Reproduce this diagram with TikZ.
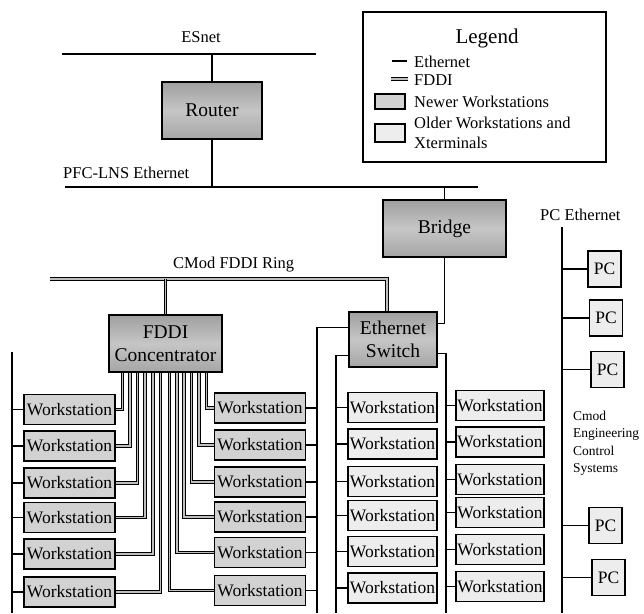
\documentclass[tikz,border=0pt]{standalone}
\usepackage{fontspec}
\setmainfont{Liberation Serif}
\usetikzlibrary{calc}
\begin{document}
\begin{tikzpicture}[x=1pt,y=-1pt,
  dev/.style={draw, line width=1.3pt, top color=gray!75, bottom color=gray!70, middle color=gray!45, font=\fontsize{19.5}{23}\selectfont, inner sep=0pt, align=center},
  newws/.style={draw, line width=1.2pt, fill=gray!35, minimum width=91pt, minimum height=30pt, inner sep=0pt, font=\fontsize{17.5}{19}\selectfont},
  oldws/.style={newws, fill=gray!14},
  pcbox/.style={oldws, minimum width=33pt, minimum height=36pt},
  lbl/.style={font=\fontsize{16.5}{18}\selectfont, inner sep=0pt, anchor=base west},
  small/.style={font=\fontsize{13.5}{16}\selectfont, inner sep=0pt, anchor=base west},
  eth/.style={line width=1.1pt},
  fddi/.style={line width=1pt, double=gray!50, double distance=1.6pt},
]
\useasboundingbox (0,0) rectangle (644,613);

% ---- top: ESnet, router, PFC-LNS
\node[lbl, anchor=base] (esnet) at (201,42) {ESnet};
\coordinate (esL) at (62,54);
\coordinate (esR) at (316,54);
\draw[eth] (esL) -- (esR);
\node[dev, minimum width=100pt, minimum height=57pt] (router) at (212,110.5) {Router};
\draw[eth] (router.north) -- (router.north |- esL);

\node[lbl] (pfclbl) at (63,178) {PFC-LNS Ethernet};
\coordinate (pfL) at (65,187);
\coordinate (pfR) at (478,187);
\draw[eth] (pfL) -- (pfR);
\draw[eth] (router.south) -- (router.south |- pfL);

\node[dev, minimum width=123pt, minimum height=57pt] (bridge) at (444.5,228.5) {Bridge};
\draw[eth] (bridge.north) -- (bridge.north |- pfL);

% ---- legend
\node[draw, line width=1.6pt, minimum width=243pt, minimum height=150pt, inner sep=0pt] (legend) at (484.5,87) {};
\node[font=\fontsize{21}{24}\selectfont, inner sep=0pt, anchor=base] (legtitle) at (487,43) {Legend};
\coordinate (le1a) at (392,61);
\coordinate (le1b) at (407,61);
\draw[eth] (le1a) -- (le1b);
\node[lbl] (legeth) at (414,67) {Ethernet};
\coordinate (le2a) at (391,79);
\coordinate (le2b) at (408,79);
\draw[fddi] (le2a) -- (le2b);
\node[lbl] (legfddi) at (414,85) {FDDI};
\node[draw, line width=1.2pt, fill=gray!35, minimum width=30pt, minimum height=15pt, inner sep=0pt] (swnew) at (390,101.5) {};
\node[lbl] (legnew) at (414,107) {Newer Workstations};
\node[draw, line width=1.2pt, fill=gray!14, minimum width=30pt, minimum height=18pt, inner sep=0pt] (swold) at (390,133) {};
\node[lbl] (legold1) at (414,128) {Older Workstations and};
\node[lbl] (legold2) at (414,148) {Xterminals};

% ---- FDDI ring
\node[lbl] (ringlbl) at (173,268) {CMod FDDI Ring};
\coordinate (ringL) at (50,279);
\coordinate (ringR) at (387,279);
\node[dev, minimum width=113pt, minimum height=57pt] (conc) at (165.5,343.5) {FDDI\\Concentrator};
\node[dev, minimum width=88pt, minimum height=55pt] (sw) at (393,339.5) {Ethernet\\Switch};
\draw[fddi] (ringL) -- (ringR) -- (sw.north -| ringR);
\draw[fddi] (conc.north) -- (conc.north |- ringL);

% bridge to switch
\draw[eth] (bridge.south) |- ([yshift=-12pt]sw.north east);

% ---- buses
\coordinate (b1t) at (12,352);
\coordinate (b1) at (12,613);
\coordinate (b2) at (317,613);
\coordinate (b3) at (336,613);
\coordinate (b4) at (446,613);
\draw[eth] (b1t) -- (b1);
\draw[eth] ([yshift=-16pt]sw.north west) -| (b2);
\draw[eth] ([yshift=-44pt]sw.north west) -| (b3);
\draw[eth] ([yshift=-42pt]sw.north east) -| (b4);

% ---- workstations left of concentrator
\foreach \r/\y in {1/409.5,2/446,3/483,4/517.5,5/554,6/592}{
  \node[newws] (wsL\r) at (69.5,\y) {Workstation};
  \draw[eth] (wsL\r.west) -- (wsL\r.west -| b1);
  \draw[fddi] ($(conc.south west)+({14+(\r-1)*7.6},0)$) |- (wsL\r.east);
}
% ---- workstations right of concentrator
\foreach \r/\y in {1/408,2/445,3/482,4/517,5/552.5,6/590.5}{
  \node[newws] (wsR\r) at (260,\y) {Workstation};
  \draw[eth] (wsR\r.east) -- (wsR\r.east -| b2);
  \draw[fddi] ($(conc.south west)+({98-(\r-1)*7.4},0)$) |- (wsR\r.west);
}
% ---- older workstations, column 3
\foreach \r/\y in {1/407.5,2/444,3/481.5,4/515.5,5/551.5,6/588}{
  \node[oldws, minimum width=89pt] (wsA\r) at (392.5,\y) {Workstation};
  \draw[eth] (wsA\r.west) -- (wsA\r.west -| b3);
}
% ---- older workstations, column 4
\foreach \r/\y in {1/405.5,2/442,3/479.5,4/512.5,5/549.5,6/586.5}{
  \node[oldws, minimum width=88pt] (wsB\r) at (500,\y) {Workstation};
  \draw[eth] (wsB\r.west) -- (wsB\r.west -| b4);
}

% ---- PC Ethernet
\node[lbl] (pclbl) at (540,220) {PC Ethernet};
\coordinate (pcT) at (562,227);
\coordinate (pcB) at (562,613);
\draw[eth] (pcT) -- (pcB);
\foreach \n/\x/\y in {1/604.5/269,2/606/318,3/607.5/369.5,4/605.5/525.5,5/608.5/577.5}{
  \node[pcbox] (pc\n) at (\x,\y) {PC};
  \draw[eth] (pc\n.west) -- (pc\n.west -| pcT);
}
\node[small] (cm1) at (573,420) {Cmod};
\node[small] (cm2) at (573,437.5) {Engineering};
\node[small] (cm3) at (573,455) {Control};
\node[small] (cm4) at (573,472.5) {Systems};
\end{tikzpicture}
\end{document}
